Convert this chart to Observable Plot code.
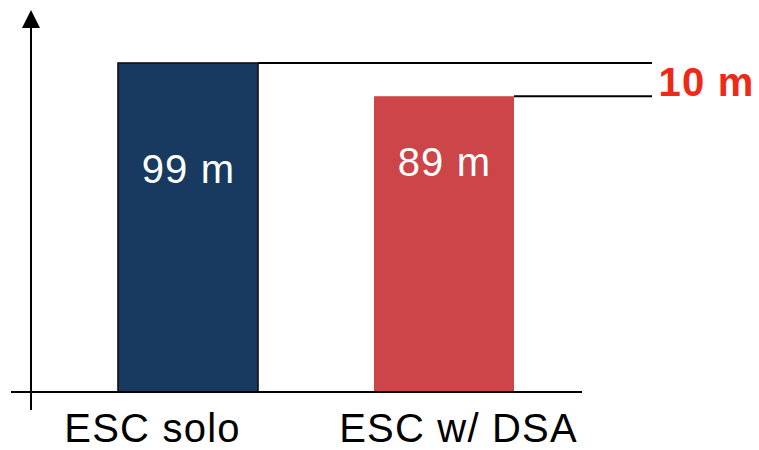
<!DOCTYPE html>
<html>
<head>
<meta charset="utf-8">
<script src="https://cdn.jsdelivr.net/npm/d3@7"></script>
<script src="https://cdn.jsdelivr.net/npm/@observablehq/plot@0.6"></script>
<style>
  html, body { margin: 0; padding: 0; background: #fff; }
  svg { display: block; }
</style>
</head>
<body>
<div id="chart"></div>
<script>
// Stopping distance per configuration
const categories = ["ESC solo", "ESC w/ DSA"];
const distances = [99, 89];
const barColors = ["#193a60", "#cc4548"];
const outlined = [true, false];
const unit = "m";

const rows = categories.map((name, i) => ({
  name, value: distances[i], color: barColors[i], outlined: outlined[i]
}));
const gap = distances[0] - distances[1];
const gapRow = [{value: gap, mid: (distances[0] + distances[1]) / 2}];

const W = 759, H = 450;
const FONT = "'Liberation Sans', Arial, Helvetica, sans-serif";

// Hand-drawn style axes: vertical axis with a filled arrowhead, plain baseline
function axes(index, {y}) {
  const g = d3.create("svg:g").attr("stroke", "#000").attr("stroke-width", 2);
  const y0 = y(0);
  g.append("line").attr("x1", 11).attr("x2", 582).attr("y1", y0).attr("y2", y0);
  g.append("line").attr("x1", 31).attr("x2", 31).attr("y1", y0 + 18).attr("y2", 27);
  g.append("path").attr("d", "M31,10L40,28L22,28Z").attr("fill", "#000").attr("stroke", "none");
  return g.node();
}

// Reference lines running from each bar's top edge to the gap annotation
function levelLines(index, {x, y}) {
  const g = d3.create("svg:g").attr("stroke", "#000").attr("stroke-width", 2);
  for (const d of rows) {
    g.append("line")
      .attr("x1", x(d.name) + x.bandwidth())
      .attr("x2", 652)
      .attr("y1", y(d.value))
      .attr("y2", y(d.value));
  }
  return g.node();
}

const labelStyle = {fontFamily: FONT, fontSize: 40, lineAnchor: "middle"};

const chart = Plot.plot({
  width: W,
  height: H,
  marginLeft: 117,
  marginRight: W - 514,
  marginTop: 63,
  marginBottom: 58,
  style: {background: "#fff", fontFamily: FONT, letterSpacing: "1.2px", overflow: "visible"},
  x: {domain: categories, paddingInner: 0.455, paddingOuter: 0, axis: null},
  y: {domain: [0, 99], axis: null},
  marks: [
    levelLines,
    Plot.barY(rows, {x: "name", y: "value", fill: "color"}),
    Plot.barY(rows.filter(d => d.outlined), {x: "name", y: "value", fill: "none", stroke: "#111", strokeWidth: 1.6}),
    axes,
    // value labels inside the bars
    Plot.text(rows.slice(0, 1), {x: "name", y: "value", text: d => `${d.value} ${unit}`, fill: "#fff", dy: 107, ...labelStyle}),
    Plot.text(rows.slice(1, 2), {x: "name", y: "value", text: d => `${d.value} ${unit}`, fill: "#fff", dy: 66, ...labelStyle}),
    // category labels under the baseline
    Plot.text(rows.slice(0, 1), {x: "name", frameAnchor: "bottom", text: "name", fill: "#000", dy: 37, dx: -36, ...labelStyle}),
    Plot.text(rows.slice(1, 2), {x: "name", frameAnchor: "bottom", text: "name", fill: "#000", dy: 37, dx: 14, ...labelStyle}),
    // difference between the two distances
    Plot.text(gapRow, {
      y: "mid", frameAnchor: "right", textAnchor: "start", dx: 144, dy: 3,
      text: d => `${d.value} ${unit}`, fill: "#ee2a17", fontWeight: "bold",
      fontFamily: FONT, fontSize: 40, lineAnchor: "middle"
    })
  ]
});

document.getElementById("chart").appendChild(chart);
</script>
</body>
</html>
